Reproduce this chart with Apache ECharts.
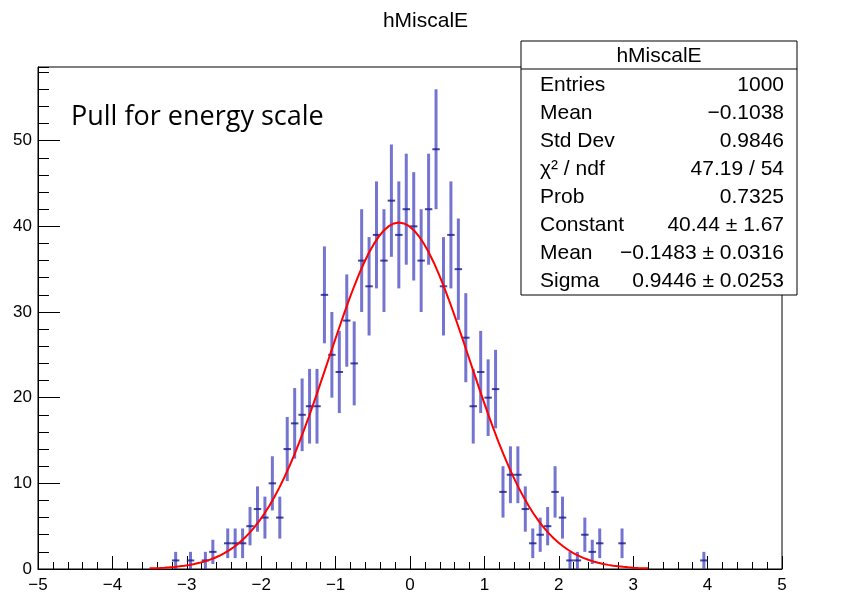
<!DOCTYPE html>
<html>
<head>
<meta charset="utf-8">
<script src="https://cdn.jsdelivr.net/npm/echarts@6/dist/echarts.min.js"></script>
<style>
  html, body { margin: 0; padding: 0; background: #fff; }
  #chart { width: 851px; height: 595px; }
</style>
</head>
<body>
<div id="chart"></div>
<script>
// histogram: 100 bins from -5 to 5
const histMin = -5;
const binWidth = 0.1;
const counts = [
  0, 0, 0, 0, 0, 0, 0, 0, 0, 0,
  0, 0, 0, 0, 0, 0, 0, 0, 1, 0,
  1, 0, 1, 2, 0, 3, 3, 3, 5, 7,
  6, 10, 6, 14, 17, 18, 19, 19, 32, 25,
  23, 29, 24, 36, 33, 39, 36, 43, 39, 42,
  40, 36, 42, 49, 33, 39, 35, 27, 19, 23,
  20, 21, 9, 11, 11, 7, 3, 4, 5, 9,
  6, 1, 1, 4, 2, 3, 0, 0, 3, 0,
  0, 0, 0, 0, 0, 0, 0, 0, 0, 1,
  0, 0, 0, 0, 0, 0, 0, 0, 0, 0
];

// gaus fit parameters (from stats box)
const fitConstant = 40.44;
const fitMean = -0.1483;
const fitSigma = 0.9446;
const fitRange = [-3.5, 3.2];

const statLabels = ['Entries', 'Mean', 'Std Dev', 'χ² / ndf', 'Prob', 'Constant', 'Mean', 'Sigma'];
const statValues = ['1000', '\u22120.1038', '0.9846', '47.19 / 54', '0.7325',
  '40.44 \u00b1 1.67', '\u22120.1483 \u00b1 0.0316', '0.9446 \u00b1 0.0253'];

const histTitle = 'hMiscalE';
const noteText = 'Pull for energy scale';

const rootFont = '"Liberation Sans", Arial, Helvetica, sans-serif';

// error bar points: [center, content, error]
let points = [];
counts.forEach((n, i) => {
  if (n > 0) points.push([histMin + (i + 0.5) * binWidth, n, Math.sqrt(n)]);
});

// fit curve sampled like TF1 (npx = 100)
let fitPts = [];
for (let i = 0; i <= 100; i++) {
  let x = fitRange[0] + (fitRange[1] - fitRange[0]) * i / 100;
  let t = (x - fitMean) / fitSigma;
  fitPts.push([x, fitConstant * Math.exp(-0.5 * t * t)]);
}

const minus = v => (v < 0 ? '\u2212' + (-v) : String(v));

let chart = echarts.init(document.getElementById('chart'));

const barColor = 'rgba(45,45,185,0.66)';
const markColor = 'rgba(25,25,140,0.8)';

let statGraphics = [
  { type: 'rect', shape: { x: 521, y: 41, width: 276, height: 254 },
    style: { fill: '#fff', stroke: '#000', lineWidth: 1 }, z: 100 },
  { type: 'line', shape: { x1: 521, y1: 69, x2: 797, y2: 69 },
    style: { stroke: '#000', lineWidth: 1 }, z: 101 },
  { type: 'text', x: 659, y: 56, z: 101,
    style: { text: histTitle, font: '21px ' + rootFont, fill: '#000', align: 'center', verticalAlign: 'middle' } }
];
statLabels.forEach((lab, i) => {
  let y = 85 + i * 28;
  statGraphics.push({ type: 'text', x: 540, y: y, z: 101,
    style: { text: lab, font: '21px ' + rootFont, fill: '#000', align: 'left', verticalAlign: 'middle' } });
  statGraphics.push({ type: 'text', x: 784, y: y, z: 101,
    style: { text: statValues[i], font: '21px ' + rootFont, fill: '#000', align: 'right', verticalAlign: 'middle' } });
});

let option = {
  animation: false,
  backgroundColor: '#fff',
  title: {
    text: histTitle,
    left: 'center',
    top: 6,
    textStyle: { fontFamily: rootFont, fontWeight: 'normal', fontSize: 21, color: '#000' }
  },
  grid: {
    left: 38, top: 67, width: 744, height: 502,
    show: true, borderColor: '#000', borderWidth: 1, backgroundColor: 'transparent'
  },
  xAxis: {
    type: 'value', min: -5, max: 5, interval: 1,
    axisLine: { show: true, onZero: false, lineStyle: { color: '#000', width: 1 } },
    axisTick: { show: true, inside: true, length: 13, lineStyle: { color: '#000', width: 1 } },
    minorTick: { show: true, splitNumber: 5, length: 7, lineStyle: { color: '#000', width: 1 } },
    splitLine: { show: false },
    axisLabel: { formatter: minus, color: '#000', fontFamily: rootFont, fontSize: 17, margin: 8 }
  },
  yAxis: [
    {
      type: 'value', min: 0, max: 58.6, interval: 10,
      axisLine: { show: true, onZero: false, lineStyle: { color: '#000', width: 1 } },
      axisTick: { show: true, inside: true, length: 22, lineStyle: { color: '#000', width: 1 } },
      splitLine: { show: false },
      axisLabel: { formatter: minus, showMaxLabel: false, color: '#000', fontFamily: rootFont, fontSize: 17, margin: 6 }
    },
    {
      // minor ticks every 2
      type: 'value', min: 0, max: 58.6, interval: 2, position: 'left',
      axisLine: { show: false, onZero: false },
      axisTick: { show: true, inside: true, length: 11, lineStyle: { color: '#000', width: 1 } },
      splitLine: { show: false },
      axisLabel: { show: false }
    }
  ],
  series: [
    {
      type: 'custom',
      name: 'hist',
      data: points,
      renderItem: (params, api) => {
        let x = api.value(0), n = api.value(1), e = api.value(2);
        let top = api.coord([x, n + e]);
        let bot = api.coord([x, n - e]);
        let left = api.coord([x - binWidth / 2, n]);
        let right = api.coord([x + binWidth / 2, n]);
        return {
          type: 'group',
          children: [
            { type: 'line', shape: { x1: top[0], y1: top[1], x2: bot[0], y2: bot[1] },
              style: { stroke: barColor, lineWidth: 3 } },
            { type: 'line', shape: { x1: left[0], y1: left[1], x2: right[0], y2: right[1] },
              style: { stroke: markColor, lineWidth: 2 } }
          ]
        };
      },
      z: 3
    },
    {
      type: 'line',
      name: 'gaus',
      data: fitPts,
      showSymbol: false,
      smooth: false,
      lineStyle: { color: '#ff0000', width: 2 },
      z: 4
    }
  ],
  graphic: statGraphics.concat([
    { type: 'text', x: 71, y: 117, z: 50,
      style: { text: noteText, font: '27px "Open Sans", Lato, sans-serif', fill: '#000', align: 'left', verticalAlign: 'middle' } }
  ])
};

chart.setOption(option);
</script>
</body>
</html>
